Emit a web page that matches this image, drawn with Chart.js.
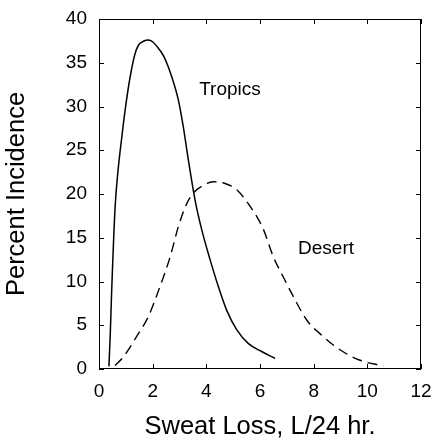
<!DOCTYPE html>
<html lang="en">
<head>
    <meta charset="UTF-8">
    <title>Sweat Loss</title>
    <style>
        html, body { margin: 0; padding: 0; background: #fff; }
    </style>
</head>
<body>
    <canvas id="sweat-chart" width="433" height="440"></canvas>
    <script src="https://cdn.jsdelivr.net/npm/chart.js"></script>
    <script>
        // values
        const tropicsX = [0.37, 0.42, 0.47, 0.6, 0.72, 0.85, 0.97, 1.15, 1.34, 1.47, 1.62, 1.8, 1.95, 2.15, 2.42, 2.71, 2.96, 3.14, 3.33, 3.58, 3.83, 4.14, 4.45, 4.76, 5.13, 5.57, 6.06, 6.56];
        const tropicsY = [0.3, 4.0, 8.7, 18.5, 23.0, 26.5, 29.5, 33.2, 36.0, 37.0, 37.4, 37.6, 37.5, 36.9, 35.7, 33.4, 30.7, 27.7, 23.9, 19.3, 15.9, 12.5, 9.4, 6.7, 4.5, 2.9, 2.0, 1.2];
        const desertX = [0.6, 0.91, 1.4, 1.84, 2.27, 2.65, 2.96, 3.27, 3.51, 3.89, 4.26, 4.7, 5.13, 5.63, 6.12, 6.5, 6.87, 7.24, 7.74, 8.36, 8.98, 9.73, 10.6];
        const desertY = [0.4, 1.4, 3.7, 6.0, 9.4, 12.8, 16.3, 18.9, 20.1, 21.0, 21.4, 21.2, 20.5, 18.6, 16.0, 12.8, 10.5, 8.3, 5.6, 3.7, 2.2, 1.0, 0.35];

        const xTicks = [0, 2, 4, 6, 8, 10, 12];
        const yTicks = [0, 5, 10, 15, 20, 25, 30, 35, 40];

        const noteText = ['Tropics', 'Desert'];
        const noteX = [4.88, 8.46];
        const noteY = [31.9, 13.7];

        const FONT = '"Liberation Sans", Arial, sans-serif';

        function toPoints(xs, ys) {
            return xs.map((x, i) => ({ x: x, y: ys[i] }));
        }

        // box around the plot, inward ticks on all sides, curve labels
        const framePlugin = {
            id: 'frame',
            afterDraw(chart) {
                const ctx = chart.ctx;
                const a = chart.chartArea;
                const xs = chart.scales.x;
                const ys = chart.scales.y;
                const len = 5;
                ctx.save();
                ctx.strokeStyle = '#000';
                ctx.lineWidth = 1;
                ctx.strokeRect(a.left + 0.5, a.top + 0.5, a.right - a.left - 1, a.bottom - a.top - 1);
                ctx.beginPath();
                xTicks.forEach(v => {
                    const px = Math.round(xs.getPixelForValue(v)) + 0.5;
                    ctx.moveTo(px, a.bottom); ctx.lineTo(px, a.bottom - len);
                    ctx.moveTo(px, a.top); ctx.lineTo(px, a.top + len);
                });
                yTicks.forEach(v => {
                    const py = Math.round(ys.getPixelForValue(v)) + 0.5;
                    ctx.moveTo(a.left, py); ctx.lineTo(a.left + len, py);
                    ctx.moveTo(a.right, py); ctx.lineTo(a.right - len, py);
                });
                ctx.stroke();

                ctx.fillStyle = '#000';
                ctx.font = '19px ' + FONT;
                ctx.textAlign = 'center';
                ctx.textBaseline = 'middle';
                noteText.forEach((t, i) => {
                    ctx.fillText(t, xs.getPixelForValue(noteX[i]), ys.getPixelForValue(noteY[i]));
                });
                ctx.restore();
            }
        };

        const ctx = document.getElementById('sweat-chart').getContext('2d');
        new Chart(ctx, {
            type: 'scatter',
            data: {
                datasets: [{
                    label: 'Tropics',
                    data: toPoints(tropicsX, tropicsY),
                    showLine: true,
                    borderColor: '#000',
                    borderWidth: 1.5,
                    pointRadius: 0,
                    cubicInterpolationMode: 'monotone'
                }, {
                    label: 'Desert',
                    data: toPoints(desertX, desertY),
                    showLine: true,
                    borderColor: '#000',
                    borderWidth: 1.4,
                    borderDash: [10, 6],
                    pointRadius: 0,
                    cubicInterpolationMode: 'monotone'
                }]
            },
            options: {
                responsive: false,
                animation: false,
                events: [],
                layout: {
                    autoPadding: false,
                    padding: { top: 19, right: 12, left: 0, bottom: 0 }
                },
                plugins: {
                    legend: { display: false },
                    tooltip: { enabled: false }
                },
                scales: {
                    x: {
                        type: 'linear',
                        min: 0,
                        max: 12,
                        afterFit(scale) {
                            scale.height = 71;
                            scale.paddingLeft = 0;
                            scale.paddingRight = 0;
                        },
                        afterBuildTicks(scale) { scale.ticks = xTicks.map(v => ({ value: v })); },
                        grid: { display: false, drawTicks: false },
                        border: { display: false },
                        ticks: { color: '#000', padding: 11, maxRotation: 0, font: { family: FONT, size: 19 } },
                        title: {
                            display: true,
                            text: 'Sweat Loss, L/24 hr.',
                            color: '#000',
                            padding: { top: 0, bottom: 0 },
                            font: { family: FONT, size: 25.5, lineHeight: 1 }
                        }
                    },
                    y: {
                        type: 'linear',
                        min: 0,
                        max: 40,
                        afterFit(scale) {
                            scale.width = 99;
                            scale.paddingTop = 0;
                            scale.paddingBottom = 0;
                        },
                        afterBuildTicks(scale) { scale.ticks = yTicks.map(v => ({ value: v })); },
                        grid: { display: false, drawTicks: false },
                        border: { display: false },
                        ticks: { color: '#000', padding: 12, font: { family: FONT, size: 19 } },
                        title: {
                            display: true,
                            text: 'Percent Incidence',
                            color: '#000',
                            padding: { top: 2, bottom: 0 },
                            font: { family: FONT, size: 25.5 }
                        }
                    }
                }
            },
            plugins: [framePlugin]
        });
    </script>
</body>
</html>
